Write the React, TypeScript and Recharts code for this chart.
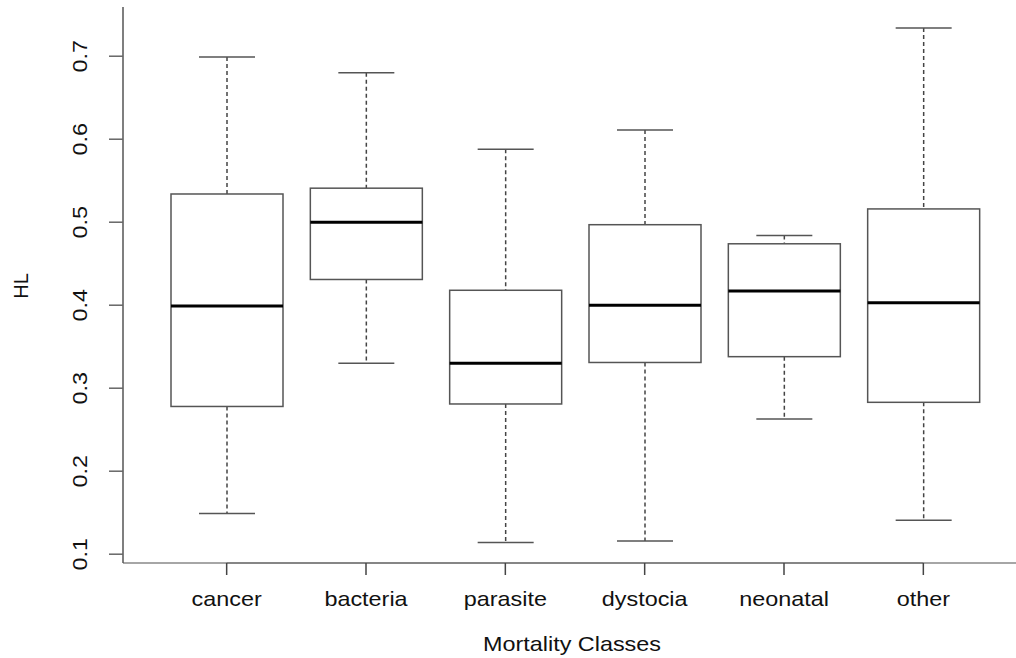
import { ComposedChart, Bar, XAxis, YAxis, ReferenceLine } from "recharts";

const categories = ["cancer", "bacteria", "parasite", "dystocia", "neonatal", "other"];
const lowerWhisker = [0.149, 0.33, 0.114, 0.116, 0.263, 0.141];
const q1 = [0.278, 0.431, 0.281, 0.331, 0.338, 0.283];
const median = [0.399, 0.5, 0.33, 0.4, 0.417, 0.403];
const q3 = [0.534, 0.541, 0.418, 0.497, 0.474, 0.516];
const upperWhisker = [0.699, 0.68, 0.588, 0.611, 0.484, 0.734];
const yTicks = [0.1, 0.2, 0.3, 0.4, 0.5, 0.6, 0.7];

const Y_MIN = 0.0894;
const Y_MAX = 0.7593;

const data = categories.map((name, i) => ({
  name,
  range: [lowerWhisker[i], upperWhisker[i]],
  lo: lowerWhisker[i],
  q1: q1[i],
  med: median[i],
  q3: q3[i],
  hi: upperWhisker[i],
}));

const FONT = "'Liberation Sans', Arial, Helvetica, sans-serif";
// text in the picture is a bit wider than plain Arial
const STRETCH = 1.17;

// draws a whole box from the range bar: y/height cover lo..hi
const BoxShape = (props: any) => {
  const { x, y, width, height, payload } = props;
  if (!payload) return null;
  let top = y;
  let bottom = y + height;
  if (bottom < top) [top, bottom] = [bottom, top];
  const { lo, hi } = payload;
  const pix = (v: number) => bottom - ((v - lo) / (hi - lo)) * (bottom - top);
  const cx = x + width / 2;
  const capHalf = width / 4;
  const yq1 = pix(payload.q1);
  const yq3 = pix(payload.q3);
  const ym = pix(payload.med);
  return (
    <g>
      <line x1={cx} x2={cx} y1={top} y2={yq3} stroke="#444" strokeWidth={1.5} strokeDasharray="4 3" />
      <line x1={cx} x2={cx} y1={yq1} y2={bottom} stroke="#444" strokeWidth={1.5} strokeDasharray="4 3" />
      <line x1={cx - capHalf} x2={cx + capHalf} y1={top} y2={top} stroke="#555" strokeWidth={1.5} />
      <line x1={cx - capHalf} x2={cx + capHalf} y1={bottom} y2={bottom} stroke="#555" strokeWidth={1.5} />
      <rect x={x} y={yq3} width={width} height={yq1 - yq3} fill="#fff" stroke="#555" strokeWidth={1.5} />
      <line x1={x} x2={x + width} y1={ym} y2={ym} stroke="#000" strokeWidth={3} />
    </g>
  );
};

const XTick = (props: any) => {
  const { x, payload } = props;
  return (
    <text
      transform={`translate(${x},606) scale(${STRETCH},1)`}
      textAnchor="middle"
      fontFamily={FONT}
      fontSize={20}
      fill="#111"
    >
      {payload.value}
    </text>
  );
};

const YTick = (props: any) => {
  const { y, payload } = props;
  return (
    <text
      transform={`translate(87,${y}) rotate(-90) scale(${STRETCH},1)`}
      textAnchor="middle"
      fontFamily={FONT}
      fontSize={20}
      fill="#111"
    >
      {payload.value.toFixed(1)}
    </text>
  );
};

export default function App() {
  return (
    <div style={{ position: "absolute", left: 0, top: 0, width: 1016, height: 658, background: "#fff" }}>
      <ComposedChart
        width={1016}
        height={658}
        data={data}
        margin={{ top: 7, right: 0, left: 0, bottom: 0 }}
      >
        <XAxis
          dataKey="name"
          height={95}
          padding={{ left: 34, right: 23 }}
          tickSize={12}
          tickMargin={0}
          tick={<XTick />}
          axisLine={{ stroke: "#888", strokeWidth: 1.5 }}
          tickLine={{ stroke: "#444", strokeWidth: 1.5 }}
          interval={0}
        />
        <XAxis
          xAxisId="top"
          orientation="top"
          dataKey="name"
          height={0}
          tick={false}
          tickLine={false}
          axisLine={{ stroke: "#888", strokeWidth: 1.5 }}
        />
        <YAxis
          width={123}
          domain={[Y_MIN, Y_MAX]}
          ticks={yTicks}
          allowDataOverflow
          tickSize={14}
          tickMargin={0}
          tick={<YTick />}
          axisLine={{ stroke: "#555", strokeWidth: 1.5 }}
          tickLine={{ stroke: "#666", strokeWidth: 1.5 }}
          interval={0}
        />
        {/* darker axis segment between first and last category tick */}
        <ReferenceLine
          segment={[
            { x: categories[0], y: Y_MIN },
            { x: categories[categories.length - 1], y: Y_MIN },
          ]}
          stroke="#555"
          strokeWidth={1.5}
          ifOverflow="visible"
        />
        <Bar dataKey="range" barSize={112} shape={<BoxShape />} isAnimationActive={false} />
      </ComposedChart>
      <svg
        width={1016}
        height={658}
        style={{ position: "absolute", left: 0, top: 0, pointerEvents: "none" }}
      >
        <text
          transform="translate(28,286) rotate(-90)"
          textAnchor="middle"
          fontFamily={FONT}
          fontSize={20}
          fill="#111"
        >
          HL
        </text>
        <text
          transform={`translate(572,651) scale(${STRETCH},1)`}
          textAnchor="middle"
          fontFamily={FONT}
          fontSize={20}
          fill="#111"
        >
          Mortality Classes
        </text>
      </svg>
    </div>
  );
}
